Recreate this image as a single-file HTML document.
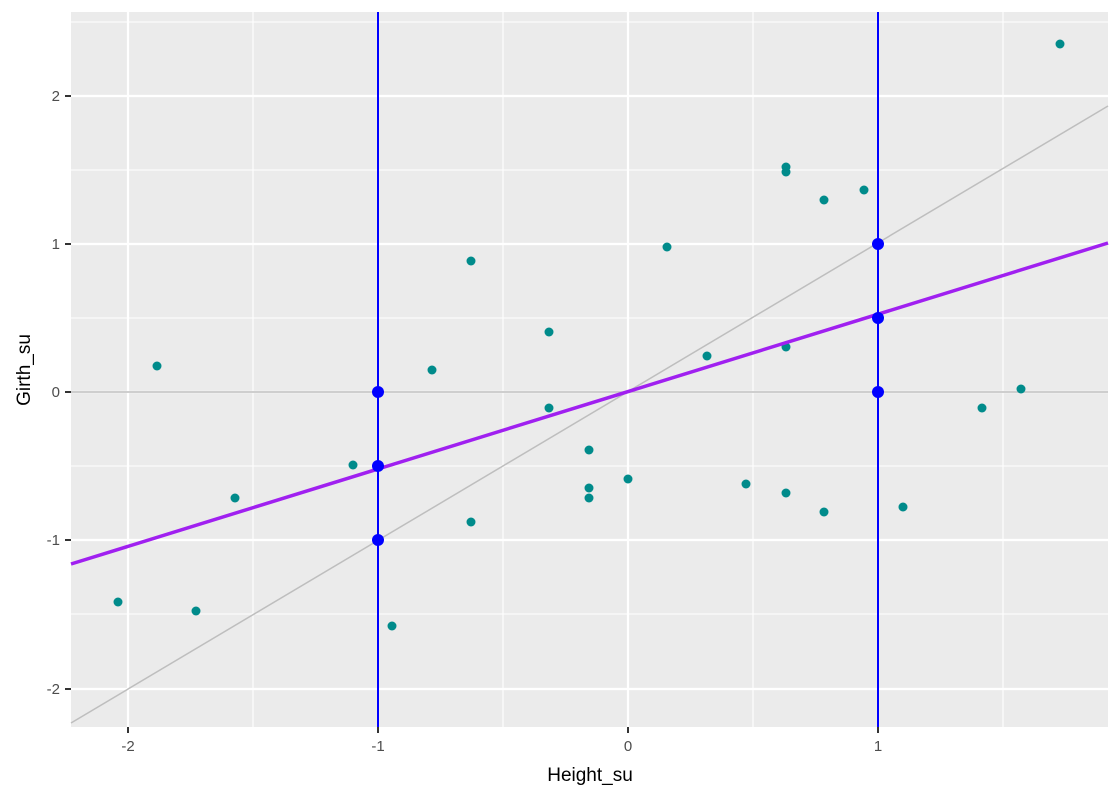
<!DOCTYPE html>
<html><head><style>body{margin:0;background:#fff}svg{display:block}text{font-family:"Liberation Sans",sans-serif}</style></head><body>
<svg width="1120" height="800" xmlns="http://www.w3.org/2000/svg">
<rect x="71" y="12" width="1037" height="715" fill="#ebebeb"/>
<g stroke="#fff" stroke-width="1.1">
<line x1="253" y1="12" x2="253" y2="727"/><line x1="503" y1="12" x2="503" y2="727"/><line x1="753" y1="12" x2="753" y2="727"/><line x1="1003" y1="12" x2="1003" y2="727"/>
<line x1="71" y1="22" x2="1108" y2="22"/><line x1="71" y1="170" x2="1108" y2="170"/><line x1="71" y1="318" x2="1108" y2="318"/><line x1="71" y1="466" x2="1108" y2="466"/><line x1="71" y1="614" x2="1108" y2="614"/>
</g>
<g stroke="#fff" stroke-width="2.2">
<line x1="128" y1="12" x2="128" y2="727"/><line x1="378" y1="12" x2="378" y2="727"/><line x1="628" y1="12" x2="628" y2="727"/><line x1="878" y1="12" x2="878" y2="727"/>
<line x1="71" y1="96" x2="1108" y2="96"/><line x1="71" y1="244" x2="1108" y2="244"/><line x1="71" y1="392" x2="1108" y2="392"/><line x1="71" y1="540" x2="1108" y2="540"/><line x1="71" y1="689" x2="1108" y2="689"/>
</g>
<line x1="71" y1="392" x2="1108" y2="392" stroke="#bebebe" stroke-width="1.5"/>
<line x1="71" y1="723" x2="1108" y2="106" stroke="#bebebe" stroke-width="1.5"/>
<g fill="#008b8b">
<circle cx="1060" cy="44" r="4.5"/><circle cx="786" cy="167" r="4.5"/><circle cx="786" cy="172" r="4.5"/><circle cx="824" cy="200" r="4.5"/><circle cx="864" cy="190" r="4.5"/><circle cx="667" cy="247" r="4.5"/><circle cx="471" cy="261" r="4.5"/><circle cx="549" cy="332" r="4.5"/><circle cx="707" cy="356" r="4.5"/><circle cx="786" cy="347" r="4.5"/><circle cx="432" cy="370" r="4.5"/><circle cx="157" cy="366" r="4.5"/><circle cx="549" cy="408" r="4.5"/><circle cx="1021" cy="389" r="4.5"/><circle cx="982" cy="408" r="4.5"/><circle cx="589" cy="450" r="4.5"/><circle cx="589" cy="488" r="4.5"/><circle cx="589" cy="498" r="4.5"/><circle cx="628" cy="479" r="4.5"/><circle cx="353" cy="465" r="4.5"/><circle cx="235" cy="498" r="4.5"/><circle cx="471" cy="522" r="4.5"/><circle cx="746" cy="484" r="4.5"/><circle cx="786" cy="493" r="4.5"/><circle cx="824" cy="512" r="4.5"/><circle cx="903" cy="507" r="4.5"/><circle cx="118" cy="602" r="4.5"/><circle cx="196" cy="611" r="4.5"/><circle cx="392" cy="626" r="4.5"/>
</g>
<line x1="71" y1="564" x2="1108" y2="243" stroke="#a020f0" stroke-width="3.5"/>
<line x1="378" y1="12" x2="378" y2="727" stroke="#0000ff" stroke-width="2"/>
<line x1="878" y1="12" x2="878" y2="727" stroke="#0000ff" stroke-width="2"/>
<g fill="#0000ff">
<circle cx="378" cy="392" r="6"/><circle cx="378" cy="466" r="6"/><circle cx="378" cy="540" r="6"/>
<circle cx="878" cy="244" r="6"/><circle cx="878" cy="318" r="6"/><circle cx="878" cy="392" r="6"/>
</g>
<g stroke="#333" stroke-width="2">
<line x1="128" y1="727" x2="128" y2="733"/><line x1="378" y1="727" x2="378" y2="733"/><line x1="628" y1="727" x2="628" y2="733"/><line x1="878" y1="727" x2="878" y2="733"/>
<line x1="65" y1="96" x2="71" y2="96"/><line x1="65" y1="244" x2="71" y2="244"/><line x1="65" y1="392" x2="71" y2="392"/><line x1="65" y1="540" x2="71" y2="540"/><line x1="65" y1="689" x2="71" y2="689"/>
</g>
<g fill="#4d4d4d" font-size="15" text-anchor="middle">
<text x="128" y="751">-2</text><text x="378" y="751">-1</text><text x="628" y="751">0</text><text x="878" y="751">1</text>
</g>
<g fill="#4d4d4d" font-size="15" text-anchor="end">
<text x="60" y="101">2</text><text x="60" y="249">1</text><text x="60" y="397">0</text><text x="60" y="545">-1</text><text x="60" y="694">-2</text>
</g>
<text x="590" y="781" font-size="19" text-anchor="middle" fill="#000">Height_su</text>
<text x="0" y="0" font-size="19" text-anchor="middle" fill="#000" transform="translate(30,370) rotate(-90)">Girth_su</text>
</svg>
</body></html>
